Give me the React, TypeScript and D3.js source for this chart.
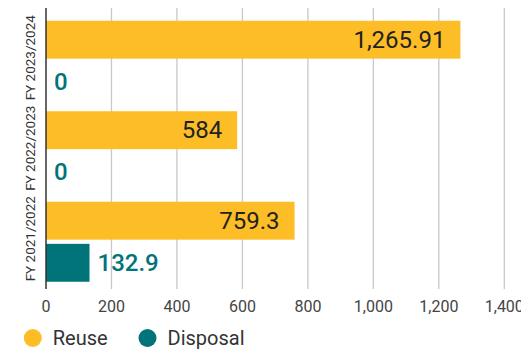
import React from "react";
import * as d3 from "d3";

const years = ["FY 2023/2024", "FY 2022/2023", "FY 2021/2022"];
const series = ["Reuse", "Disposal"];
const reuse = [1265.91, 584, 759.3];
const disposal = [0, 0, 132.9];
const reuseLabels = ["1,265.91", "584", "759.3"];
const disposalLabels = ["0", "0", "132.9"];
const xTicks = [0, 200, 400, 600, 800, 1000, 1200, 1400];

const colors: Record<string, string> = { Reuse: "#FCBD26", Disposal: "#007479" };

const W = 521;
const H = 352;

export default function App() {
  const x = d3.scaleLinear().domain([0, 1400]).range([46, 504.3]);
  const y0 = d3.scaleBand<string>().domain(years).range([15.5, 287]).paddingInner(0).paddingOuter(0);
  const y1 = d3.scaleBand<string>().domain(series).range([-40, 40]).paddingInner(0.1);
  const values: Record<string, number[]> = { Reuse: reuse, Disposal: disposal };
  const labels: Record<string, string[]> = { Reuse: reuseLabels, Disposal: disposalLabels };
  const fmt = d3.format(",");
  const font = "Roboto, 'Noto Sans', sans-serif";
  const top = 8;
  const bottom = 289;

  return (
    <svg width={W} height={H} style={{ position: "absolute", left: 0, top: 0 }} fontFamily={font}>
      <rect width={W} height={H} fill="#fff" />
      {xTicks.map((t) => (
        <g key={t}>
          {t !== 0 && (
            <line x1={x(t)} x2={x(t)} y1={top} y2={bottom} stroke="#c8c8c8" strokeWidth={1.3} />
          )}
          <text x={x(t)} y={306} textAnchor="middle" dominantBaseline="central" fontSize={16} fill="#444">
            {fmt(t)}
          </text>
        </g>
      ))}
      {years.map((yr, i) => {
        const c = (y0(yr) as number) + y0.bandwidth() / 2;
        return (
          <g key={yr}>
            {series.map((s) => {
              const v = values[s][i];
              const by = c + (y1(s) as number);
              const bh = y1.bandwidth();
              const xe = x(v);
              const isReuse = s === "Reuse";
              return (
                <g key={s}>
                  {v > 0 && <rect x={x(0)} y={by} width={xe - x(0)} height={bh} fill={colors[s]} />}
                  <text
                    x={isReuse ? xe - 15 : xe + 8}
                    y={by + bh / 2}
                    textAnchor={isReuse ? "end" : "start"}
                    dominantBaseline="central"
                    fontSize={24}
                    fontWeight={isReuse ? 400 : 500}
                    fill={isReuse ? "#222" : colors.Disposal}
                  >
                    {labels[s][i]}
                  </text>
                </g>
              );
            })}
            <text
              transform={`translate(30,${c - 3}) rotate(-90)`}
              textAnchor="middle"
              dominantBaseline="central"
              fontSize={13.5}
              fill="#333"
            >
              {yr}
            </text>
          </g>
        );
      })}
      <line x1={x(0)} x2={x(0)} y1={top} y2={bottom} stroke="#333" strokeWidth={1.5} />
      {series.map((s, i) => {
        const cx = i === 0 ? 32.8 : 147.5;
        return (
          <g key={s}>
            <circle cx={cx} cy={338} r={9} fill={colors[s]} />
            <text x={cx + 20} y={338} dominantBaseline="central" fontSize={20} fill="#333">
              {s}
            </text>
          </g>
        );
      })}
    </svg>
  );
}
